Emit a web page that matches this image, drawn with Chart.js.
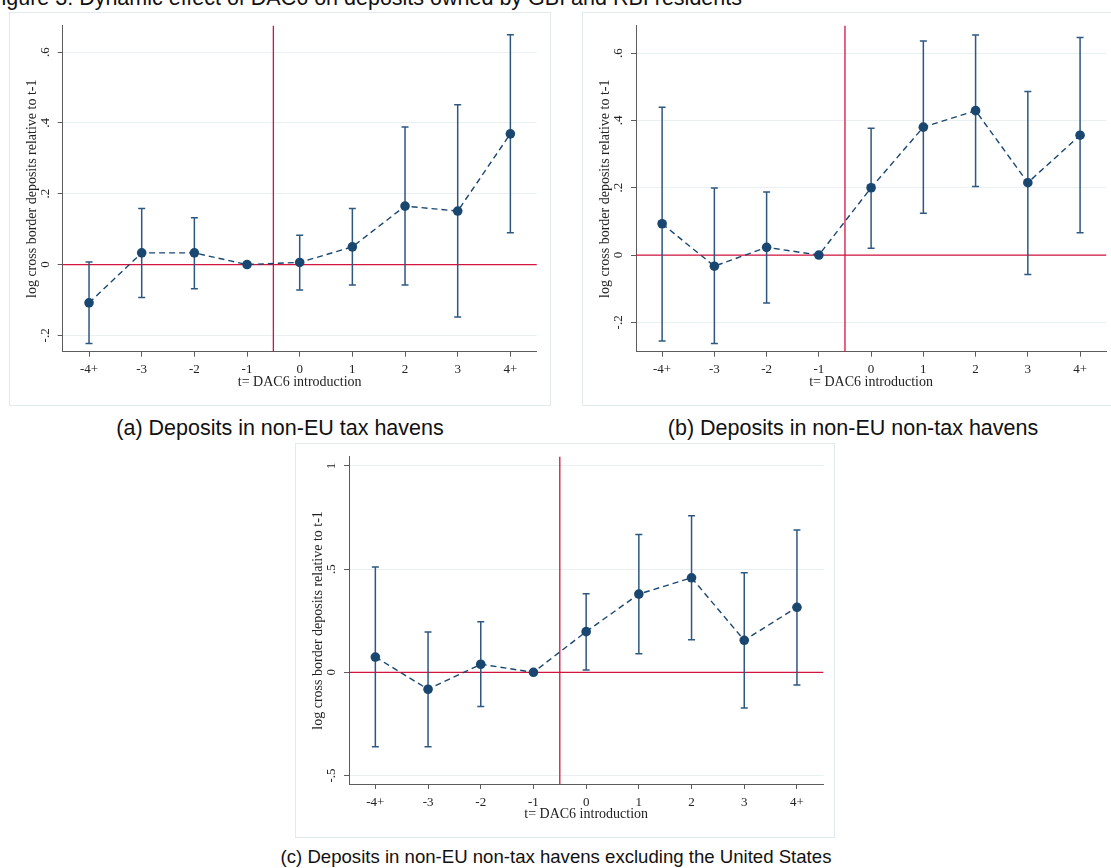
<!DOCTYPE html>
<html><head><meta charset="utf-8">
<script src="https://cdn.jsdelivr.net/npm/chart.js@4.4.1/dist/chart.umd.min.js"></script>
<style>
html,body{margin:0;padding:0;background:#fff;}
body{width:1111px;height:868px;position:relative;overflow:hidden;}
.frame{position:absolute;border:1px solid #e2eaec;box-sizing:border-box;}
canvas{position:absolute;}
.cap{position:absolute;font-family:'Liberation Sans',Arial,sans-serif;font-size:21.5px;line-height:24px;color:#111;white-space:nowrap;text-align:center;width:800px;}
#title{position:absolute;font-family:'Liberation Sans',Arial,sans-serif;font-size:21.5px;line-height:21.5px;color:#111;white-space:nowrap;text-align:right;}
</style></head><body>
<div id="title" style="right:369px;top:-12px;">Figure 3: Dynamic effect of DAC6 on deposits owned by GBI and RBI residents</div>
<div class="frame" style="left:9px;top:12px;width:542px;height:394px;"></div>
<div class="frame" style="left:582px;top:12px;width:560px;height:394px;"></div>
<div class="frame" style="left:295px;top:443px;width:540px;height:395px;"></div>
<canvas id="ca"></canvas>
<canvas id="cb"></canvas>
<canvas id="cc"></canvas>
<div class="cap" style="left:-120px;top:416px;">(a) Deposits in non-EU tax havens</div>
<div class="cap" style="left:453px;top:416px;">(b) Deposits in non-EU non-tax havens</div>
<div class="cap" style="left:156px;top:845px;font-size:18.6px;">(c) Deposits in non-EU non-tax havens excluding the United States</div>
<script>
// ---------- data ----------
const categories = ['-4+','-3','-2','-1','0','1','2','3','4+'];

const estA = [-0.108, 0.033, 0.033, 0, 0.006, 0.050, 0.165, 0.151, 0.369];
const loA  = [-0.223, -0.093, -0.068, 0, -0.072, -0.058, -0.058, -0.148, 0.090];
const hiA  = [0.007, 0.158, 0.132, 0, 0.083, 0.158, 0.388, 0.451, 0.649];

const estB = [0.093, -0.033, 0.023, 0, 0.200, 0.380, 0.429, 0.215, 0.356];
const loB  = [-0.255, -0.263, -0.142, 0, 0.020, 0.124, 0.204, -0.058, 0.066];
const hiB  = [0.439, 0.199, 0.187, 0, 0.377, 0.636, 0.654, 0.486, 0.646];

const estC = [0.074, -0.082, 0.039, 0, 0.197, 0.379, 0.458, 0.155, 0.315];
const loC  = [-0.360, -0.360, -0.165, 0, 0.011, 0.090, 0.158, -0.173, -0.061];
const hiC  = [0.510, 0.195, 0.245, 0, 0.380, 0.668, 0.758, 0.482, 0.690];

const yTicksAB = [-0.2, 0, 0.2, 0.4, 0.6];
const yTickLabelsAB = ['-.2', '0', '.2', '.4', '.6'];
const yTicksC = [-0.5, 0, 0.5, 1];
const yTickLabelsC = ['-.5', '0', '.5', '1'];

const yRangeA = [-0.246, 0.674];
const yRangeB = [-0.287, 0.681];
const yRangeC = [-0.541, 1.044];

const eventPosition = 3.5;   // between t=-1 and t=0
const refValue = 0;

const xTitle = 't= DAC6 introduction';
const yTitle = 'log cross border deposits relative to t-1';

// ---------- style ----------
const NAVY = '#1a476f';
const CI = '#2f5880';
const RED = '#d2143f';
const AXIS = '#5c5c5c';
const GRID = '#e8f0f2';
const SERIF = "'Liberation Serif','Times New Roman',serif";

const stataPlugin = {
  id: 'stata',
  beforeDatasetsDraw(chart, args, opts) {
    const {ctx, chartArea: ca, scales: {x, y}} = chart;
    ctx.save();
    ctx.strokeStyle = RED; ctx.lineWidth = 1.3;
    const y0 = y.getPixelForValue(refValue);
    ctx.beginPath(); ctx.moveTo(ca.left, y0); ctx.lineTo(ca.right, y0); ctx.stroke();
    const xe = x.getPixelForValue(eventPosition);
    ctx.beginPath(); ctx.moveTo(xe, ca.top); ctx.lineTo(xe, ca.bottom); ctx.stroke();
    ctx.strokeStyle = CI; ctx.lineWidth = 1.5;
    const lo = opts.lo, hi = opts.hi;
    for (let i = 0; i < lo.length; i++) {
      if (lo[i] === hi[i]) continue;
      const px = x.getPixelForValue(i);
      const pt = y.getPixelForValue(hi[i]);
      const pb = y.getPixelForValue(lo[i]);
      ctx.beginPath();
      ctx.moveTo(px, pt); ctx.lineTo(px, pb);
      ctx.moveTo(px - 3.5, pt); ctx.lineTo(px + 3.5, pt);
      ctx.moveTo(px - 3.5, pb); ctx.lineTo(px + 3.5, pb);
      ctx.stroke();
    }
    ctx.restore();
  }
};

const panels = [
  {id: 'ca', box: [10, 13, 540, 392], area: [62.7, 25, 536.7, 351.7], est: estA, lo: loA, hi: hiA, range: yRangeA, ticks: yTicksAB, labels: yTickLabelsAB},
  {id: 'cb', box: [583, 13, 528, 392], area: [636, 25, 1110, 351.7], est: estB, lo: loB, hi: hiB, range: yRangeB, ticks: yTicksAB, labels: yTickLabelsAB},
  {id: 'cc', box: [296, 444, 538, 393], area: [349, 456.7, 823.3, 784], est: estC, lo: loC, hi: hiC, range: yRangeC, ticks: yTicksC, labels: yTickLabelsC},
];

const Y_W = 39, X_H = 39;

panels.forEach(p => {
  const cv = document.getElementById(p.id);
  const [bx, by, bw, bh] = p.box;
  const [al, at, ar, ab] = p.area;
  cv.style.left = bx + 'px'; cv.style.top = by + 'px';
  cv.width = bw; cv.height = bh;
  cv.style.width = bw + 'px'; cv.style.height = bh + 'px';
  new Chart(cv, {
    type: 'line',
    data: {
      labels: categories,
      datasets: [{
        data: p.est,
        borderColor: NAVY,
        borderWidth: 1.4,
        borderDash: [6, 4],
        tension: 0,
        pointRadius: 4.8,
        pointHoverRadius: 4.8,
        pointBackgroundColor: NAVY,
        pointBorderWidth: 0,
        fill: false
      }]
    },
    options: {
      responsive: false,
      devicePixelRatio: 1,
      animation: false,
      events: [],
      layout: {padding: {left: al - bx - Y_W, top: at - by, right: bx + bw - ar, bottom: by + bh - (ab + X_H)}},
      plugins: {
        legend: {display: false},
        tooltip: {enabled: false},
        stata: {lo: p.lo, hi: p.hi}
      },
      scales: {
        x: {
          type: 'category',
          offset: true,
          grid: {display: true, drawOnChartArea: false, drawTicks: true, tickLength: 5, tickColor: AXIS, tickWidth: 1},
          border: {display: true, color: AXIS, width: 1},
          ticks: {color: '#222', font: {family: SERIF, size: 13}, padding: 5.5, maxRotation: 0, minRotation: 0, autoSkip: false},
          title: {display: true, text: xTitle, color: '#222', font: {family: SERIF, size: 14}, padding: 0},
          afterFit: s => { s.height = X_H; }
        },
        y: {
          type: 'linear',
          min: p.range[0], max: p.range[1],
          afterBuildTicks: s => { s.ticks = p.ticks.map(v => ({value: v})); },
          grid: {display: true, color: GRID, lineWidth: 1, drawTicks: true, tickLength: 5, tickColor: AXIS, tickWidth: 1},
          border: {display: true, color: AXIS, width: 1},
          ticks: {
            color: '#222', font: {family: SERIF, size: 13}, padding: 5,
            minRotation: 90, maxRotation: 90, autoSkip: false, crossAlign: 'center',
            callback: (v, i) => p.labels[p.ticks.indexOf(v)] ?? ''
          },
          title: {display: true, text: yTitle, color: '#222', font: {family: SERIF, size: 14}, padding: 0},
          afterFit: s => { s.width = Y_W; }
        }
      }
    },
    plugins: [stataPlugin]
  });
});
</script>
</body></html>
